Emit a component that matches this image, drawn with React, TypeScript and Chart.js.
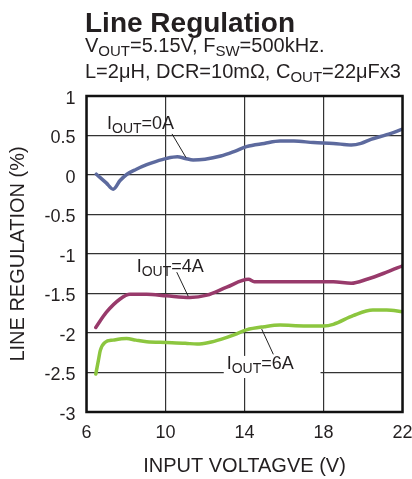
import React, { useEffect, useRef } from "react";
import { Chart, registerables } from "chart.js";

Chart.register(...registerables);

// ---- data (input voltage V, line regulation %) ----
const vin0 = [6.5, 7.0, 7.35, 7.7, 8.05, 8.5, 9.05, 9.5, 10.06, 10.6, 11.0, 11.4, 12.0, 12.8, 13.5, 14.1, 15.0, 15.8, 16.5, 17.5, 18.5, 19.4, 19.9, 20.4, 21.2, 22.0];
const reg0 = [0.01, -0.1, -0.18, -0.07, 0.01, 0.07, 0.13, 0.17, 0.21, 0.23, 0.21, 0.19, 0.2, 0.24, 0.3, 0.36, 0.4, 0.43, 0.43, 0.41, 0.4, 0.38, 0.4, 0.45, 0.51, 0.58];

const vin4 = [6.47, 7.0, 7.7, 8.2, 9.05, 10.06, 11.24, 12.1, 13.1, 14.2, 14.5, 15.8, 17.0, 18.5, 19.4, 20.2, 21.2, 22.0];
const reg4 = [-1.93, -1.74, -1.57, -1.51, -1.51, -1.53, -1.55, -1.52, -1.42, -1.32, -1.35, -1.35, -1.35, -1.35, -1.37, -1.32, -1.23, -1.15];

const vin6 = [6.47, 6.6, 6.7, 6.93, 7.35, 8.03, 8.5, 9.05, 10.06, 11.0, 11.6, 12.2, 12.8, 13.5, 14.1, 15.0, 15.8, 17.0, 18.0, 18.5, 19.5, 20.5, 21.2, 22.0];
const reg6 = [-2.52, -2.35, -2.22, -2.12, -2.09, -2.07, -2.09, -2.11, -2.12, -2.13, -2.14, -2.12, -2.08, -2.02, -1.96, -1.92, -1.9, -1.91, -1.91, -1.89, -1.78, -1.71, -1.71, -1.73];

const seriesNames = ["IOUT=0A", "IOUT=4A", "IOUT=6A"];
const xTickValues = [6, 10, 14, 18, 22];
const xTickLabels = ["6", "10", "14", "18", "22"];
const yTickValues = [1, 0.5, 0, -0.5, -1, -1.5, -2, -2.5, -3];
const yTickLabels = ["1", "0.5", "0", "-0.5", "-1", "-1.5", "-2", "-2.5", "-3"];

const titleText = "Line Regulation";
const subtitle1: [string, boolean][] = [["V", false], ["OUT", true], ["=5.15V, F", false], ["SW", true], ["=500kHz.", false]];
const subtitle2: [string, boolean][] = [["L=2\u03bcH, DCR=10m\u03a9, C", false], ["OUT", true], ["=22\u03bcFx3", false]];
const xTitle = "INPUT VOLTAGVE (V)";
const yTitle = "LINE REGULATION (%)";

// curve labels, anchored in data units
const curveLabels = [
  { main: "I", sub: "OUT", rest: "=0A", x: 7.04, y: 0.58, line: [10.33, 0.52, 11.04, 0.22], box: null as null | number[] },
  { main: "I", sub: "OUT", rest: "=4A", x: 8.54, y: -1.23, line: [10.57, -1.23, 11.15, -1.535], box: null as null | number[] },
  { main: "I", sub: "OUT", rest: "=6A", x: 13.1, y: -2.45, line: [14.87, -1.95, 15.46, -2.27], box: [12.95, -2.29, 17.85, -2.57] },
];

const FONT = "'Liberation Sans', Arial, Helvetica, sans-serif";
const TEXT = "#231f20";
const colors = ["#5d6a9e", "#983a6b", "#8cc63f"];

function pts(xs: number[], ys: number[]) {
  return xs.map((x, i) => ({ x, y: ys[i] }));
}

function drawParts(ctx: CanvasRenderingContext2D, x: number, y: number, parts: [string, boolean][], main: string, sub: string, subDy: number) {
  let cx = x;
  for (const [t, isSub] of parts) {
    ctx.font = isSub ? sub : main;
    ctx.fillText(t, cx, isSub ? y + subDy : y);
    cx += ctx.measureText(t).width;
  }
  return cx;
}

const textPlugin = {
  id: "textPlugin",
  afterDatasetsDraw(chart: any) {
    const { ctx, chartArea, scales } = chart;
    const xs = scales.x, ys = scales.y;
    ctx.save();
    // frame
    ctx.strokeStyle = "#111";
    ctx.lineWidth = 2.5;
    ctx.strokeRect(chartArea.left, chartArea.top, chartArea.right - chartArea.left, chartArea.bottom - chartArea.top);

    ctx.fillStyle = TEXT;
    ctx.textAlign = "left";
    ctx.textBaseline = "alphabetic";
    // curve labels
    for (const lb of curveLabels) {
      if (lb.box) {
        const x1 = xs.getPixelForValue(lb.box[0]);
        const y1 = ys.getPixelForValue(lb.box[1]);
        const x2 = xs.getPixelForValue(lb.box[2]);
        const y2 = ys.getPixelForValue(lb.box[3]);
        ctx.fillStyle = "#fff";
        ctx.fillRect(x1, y1, x2 - x1, y2 - y1);
        ctx.fillStyle = TEXT;
      }
      const px = xs.getPixelForValue(lb.x);
      const py = ys.getPixelForValue(lb.y);
      drawParts(ctx, px, py, [[lb.main, false], [lb.sub, true], [lb.rest, false]], `18px ${FONT}`, `14px ${FONT}`, 4);
      ctx.strokeStyle = "#222";
      ctx.lineWidth = 1;
      ctx.beginPath();
      ctx.moveTo(xs.getPixelForValue(lb.line[0]), ys.getPixelForValue(lb.line[1]));
      ctx.lineTo(xs.getPixelForValue(lb.line[2]), ys.getPixelForValue(lb.line[3]));
      ctx.stroke();
    }

    // title and subtitle
    ctx.font = `bold 28px ${FONT}`;
    ctx.fillText(titleText, 85, 32);
    drawParts(ctx, 85, 52, subtitle1, `20px ${FONT}`, `15px ${FONT}`, 4);
    drawParts(ctx, 85, 78, subtitle2, `20px ${FONT}`, `15px ${FONT}`, 4);

    // axis titles
    ctx.font = `20px ${FONT}`;
    ctx.textAlign = "center";
    ctx.fillText(xTitle, (chartArea.left + chartArea.right) / 2, 472);
    ctx.translate(24, (chartArea.top + chartArea.bottom) / 2);
    ctx.rotate(-Math.PI / 2);
    ctx.fillText(yTitle, 0, 0);
    ctx.restore();
  },
};

export default function App() {
  const ref = useRef<HTMLCanvasElement>(null);
  useEffect(() => {
    if (!ref.current) return;
    const chart = new Chart(ref.current, {
      type: "line",
      data: {
        datasets: [
          { label: seriesNames[0], data: pts(vin0, reg0), borderColor: colors[0] },
          { label: seriesNames[1], data: pts(vin4, reg4), borderColor: colors[1] },
          { label: seriesNames[2], data: pts(vin6, reg6), borderColor: colors[2] },
        ].map((d) => ({ ...d, borderWidth: 3.5, pointRadius: 0, fill: false, cubicInterpolationMode: "monotone" as const, borderCapStyle: "round" as const, borderJoinStyle: "round" as const })),
      },
      options: {
        responsive: false,
        animation: false,
        devicePixelRatio: 1,
        layout: { padding: { top: 96, right: 9.5, left: 0, bottom: 0 } },
        plugins: { legend: { display: false }, tooltip: { enabled: false }, title: { display: false } },
        scales: {
          x: {
            type: "linear",
            min: 6,
            max: 22,
            afterBuildTicks: (s: any) => { s.ticks = xTickValues.map((v) => ({ value: v })); },
            afterFit: (s: any) => { s.height = 67; s.paddingLeft = 0; s.paddingRight = 0; },
            ticks: {
              callback: (v: any) => { const i = xTickValues.indexOf(Number(v)); return i >= 0 ? xTickLabels[i] : ""; },
              font: { family: FONT, size: 18 },
              color: TEXT,
              padding: 10,
              maxRotation: 0,
              autoSkip: false,
            },
            grid: { color: "#333", lineWidth: 1.2, drawTicks: false },
            border: { display: false },
          },
          y: {
            type: "linear",
            min: -3,
            max: 1,
            afterBuildTicks: (s: any) => { s.ticks = yTickValues.map((v) => ({ value: v })); },
            afterFit: (s: any) => { s.width = 86.5; s.paddingTop = 0; s.paddingBottom = 0; },
            ticks: {
              callback: (v: any) => { const i = yTickValues.indexOf(Number(v)); return i >= 0 ? yTickLabels[i] : ""; },
              font: { family: FONT, size: 18 },
              color: TEXT,
              padding: 11,
              labelOffset: 3,
              autoSkip: false,
            },
            grid: { color: "#333", lineWidth: 1.2, drawTicks: false },
            border: { display: false },
          },
        },
      },
      plugins: [textPlugin],
    });
    return () => chart.destroy();
  }, []);
  return (
    <div style={{ position: "absolute", left: 0, top: 0, width: 412, height: 479, background: "#fff" }}>
      <canvas ref={ref} width={412} height={479} style={{ display: "block" }} />
    </div>
  );
}
